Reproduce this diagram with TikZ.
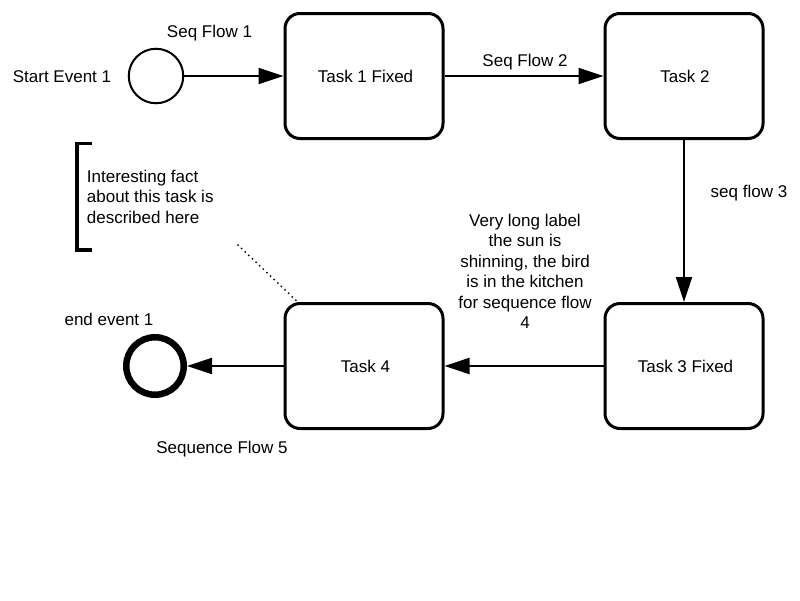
\documentclass[tikz,border=0pt]{standalone}
\usepackage{fontspec}
\setmainfont{Liberation Sans}
\usetikzlibrary{arrows.meta}
\tikzset{
  task/.style={
    draw=black,
    line width=3pt,
    rounded corners=15pt,
    minimum width=158pt,
    minimum height=125pt
  },
  event-start/.style={circle, draw=black, line width=2pt, minimum size=54.5pt, inner sep=0pt},
  event-end/.style={circle, draw=black, line width=6.5pt, minimum size=57.5pt, inner sep=0pt},
  flow/.style={line width=2pt, -{Triangle[length=25pt,width=16pt]}},
  flow-label/.style={anchor=base, inner sep=0pt},
  note-text/.style={anchor=north west, inner sep=0pt, align=left},
  bracket/.style={line width=3.5pt},
  association/.style={line width=2pt, line cap=round, dash pattern=on 0pt off 5pt}
}
\begin{document}
\begin{tikzpicture}[x=1pt, y=-1pt, font=\fontsize{17}{20.5}\selectfont]
  \useasboundingbox (0,0) rectangle (800,600);

  % events and tasks
  \node[event-start] (start) at (156,76) {};
  \node[task] (task1) at (364,76) {};
  \node[task] (task2) at (684,76) {};
  \node[task] (task3) at (684,366) {};
  \node[task] (task4) at (364,366) {};
  \node[event-end] (end) at (155,366) {};

  % texts
  \node[flow-label] (start-text) at (62,82) {Start Event 1};
  \node[flow-label] (task1-text) at (365.5,82) {Task 1 Fixed};
  \node[flow-label] (task2-text) at (685,82) {Task 2};
  \node[flow-label] (task3-text) at (685.5,372) {Task 3 Fixed};
  \node[flow-label] (task4-text) at (365.5,372) {Task 4};
  \node[flow-label] (end-text) at (109,325) {end event 1};

  % sequence flows
  \draw[flow] (start) -- (task1);
  \draw[flow] (task1) -- (task2);
  \draw[flow] (task2) -- (task3);
  \draw[flow] (task3) -- (task4);
  \draw[flow] (task4) -- (end);
  \node[flow-label] (flow1) at (209.5,37) {Seq Flow 1};
  \node[flow-label] (flow2) at (525,66) {Seq Flow 2};
  \node[flow-label] (flow3) at (749,197) {seq flow 3};
  \node[anchor=north, inner sep=0pt, align=center] (flow4) at (525,213.7)
    {Very long label\\the sun is\\shinning, the bird\\is in the kitchen\\for sequence flow\\4};
  \node[flow-label] (flow5) at (222,453) {Sequence Flow 5};

  % annotation
  \draw[bracket] (91.7,143.5) -- (77,143.5) -- (77,250) -- (91.7,250);
  \node[note-text] (note) at (86.7,169.6)
    {Interesting fact\\about this task is\\described here};
  \coordinate (note-tail) at (238,245);
  \draw[association] (note-tail) -- (task4.136);
\end{tikzpicture}
\end{document}
